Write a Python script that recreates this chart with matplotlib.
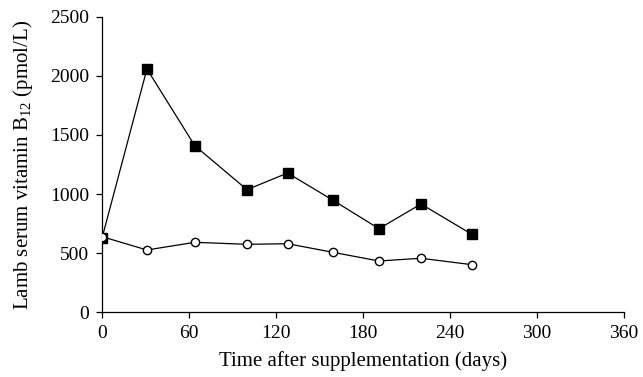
import matplotlib
matplotlib.use("Agg")
import matplotlib.pyplot as plt

days = [0, 31, 64, 100, 128, 159, 191, 220, 255]
supplemented = [626, 2058, 1409, 1037, 1178, 950, 707, 916, 660]
control = [640, 527, 592, 575, 580, 508, 434, 457, 403]
x_ticks = [0, 60, 120, 180, 240, 300, 360]
y_ticks = [0, 500, 1000, 1500, 2000, 2500]

plt.rcParams['font.family'] = ['Liberation Serif', 'DejaVu Serif']
plt.rcParams['mathtext.fontset'] = 'custom'
plt.rcParams['mathtext.rm'] = 'Liberation Serif'

fig = plt.figure(figsize=(6.43, 3.77), dpi=100)
ax = fig.add_axes([0.1586, 0.1716, 0.9705 - 0.1586, 0.9557 - 0.1716])

ax.plot(days, supplemented, color='black', lw=0.9, marker='s', ms=7.2,
        mfc='black', mec='black', zorder=3)
ax.plot(days, control, color='black', lw=0.9, marker='o', ms=6.0,
        mfc='white', mec='black', mew=1.0, zorder=4)

ax.set_xlim(0, 360)
ax.set_ylim(0, 2500)
ax.set_xticks(x_ticks)
ax.set_yticks(y_ticks)
for s in ['top', 'right']:
    ax.spines[s].set_visible(False)
for s in ['left', 'bottom']:
    ax.spines[s].set_linewidth(0.9)
ax.tick_params(direction='out', length=4, width=0.9, labelsize=14, colors='black', pad=5)
ax.set_xlabel('Time after supplementation (days)', fontsize=15, labelpad=7)
ax.set_ylabel(r'Lamb serum vitamin $\mathrm{B}_{12}$ (pmol/L)', fontsize=15, labelpad=11)

fig.savefig('out.png', dpi=100)
